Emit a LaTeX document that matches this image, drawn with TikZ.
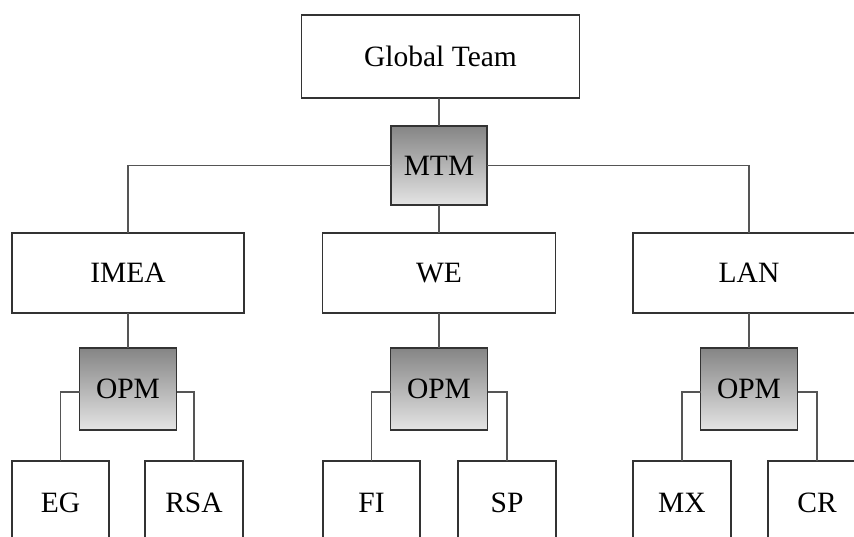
\documentclass[tikz,border=0pt]{standalone}
\usepackage{fontspec}
\setmainfont{Liberation Serif}
\definecolor{boxline}{HTML}{333333}
\definecolor{conn}{HTML}{555555}
\definecolor{gtop}{HTML}{858585}
\definecolor{gbot}{HTML}{E4E4E4}
\begin{document}
\begin{tikzpicture}[x=1pt,y=-1pt,
  every node/.style={font=\fontsize{29.5}{34}\selectfont, inner sep=0pt, outer sep=0pt},
  wbox/.style={draw=boxline, line width=1.3pt, fill=white, minimum width=#1},
  wbox/.default=232pt,
  gbox/.style={draw=boxline, line width=1.3pt, top color=gtop, bottom color=gbot, minimum width=97pt, minimum height=82pt},
  link/.style={draw=conn, line width=1.4pt}]
\useasboundingbox (0,0) rectangle (854,537);
\clip (0,0) rectangle (854,537);
% nodes
\node[wbox=278pt, minimum height=83pt] (global) at (440.5,56.5) {Global Team};
\node[gbox, minimum width=96pt, minimum height=79pt] (mtm) at (439,165.5) {MTM};
\node[wbox, minimum height=80pt] (imea) at (128,273) {IMEA};
\node[wbox=233pt, minimum height=80pt] (we) at (439,273) {WE};
\node[wbox, minimum height=80pt] (lan) at (749,273) {LAN};
\node[gbox] (opm1) at (128,389) {OPM};
\node[gbox] (opm2) at (439,389) {OPM};
\node[gbox] (opm3) at (749,389) {OPM};
\node[wbox=97pt, minimum height=84pt] (eg) at (60.5,503) {EG};
\node[wbox=98pt, minimum height=84pt] (rsa) at (194,503) {RSA};
\node[wbox=97pt, minimum height=84pt] (fi) at (371.5,503) {FI};
\node[wbox=98pt, minimum height=84pt] (sp) at (507,503) {SP};
\node[wbox=98pt, minimum height=84pt] (mx) at (682,503) {MX};
\node[wbox=98pt, minimum height=84pt] (cr) at (817,503) {CR};
% connectors
\path[link] (global.south -| mtm.north) -- (mtm.north);
\path[link] (mtm.west) -| (imea.north);
\path[link] (mtm.east) -| (lan.north);
\path[link] (mtm.south) -- (we.north);
\path[link] (imea.south) -- (opm1.north);
\path[link] (we.south) -- (opm2.north);
\path[link] (lan.south) -- (opm3.north);
\path[link] ([yshift=-3pt]opm1.west) -| (eg.north);
\path[link] ([yshift=-3pt]opm1.east) -| (rsa.north);
\path[link] ([yshift=-3pt]opm2.west) -| (fi.north);
\path[link] ([yshift=-3pt]opm2.east) -| (sp.north);
\path[link] ([yshift=-3pt]opm3.west) -| (mx.north);
\path[link] ([yshift=-3pt]opm3.east) -| (cr.north);
\end{tikzpicture}
\end{document}
